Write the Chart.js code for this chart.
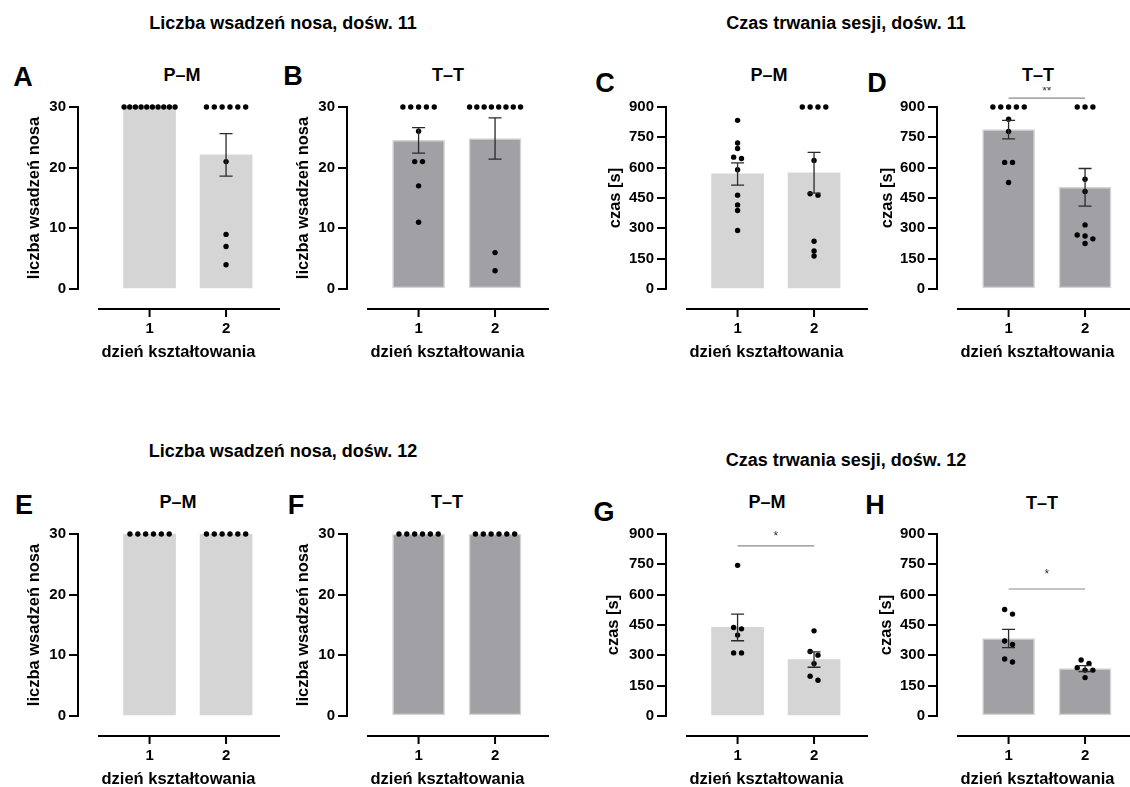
<!DOCTYPE html>
<html>
<head>
<meta charset="utf-8">
<script src="https://cdn.jsdelivr.net/npm/chart.js@4.4.0/dist/chart.umd.min.js"></script>
<style>
body { margin:0; width:1130px; height:787px; overflow:hidden; background:#fff; position:relative;
       font-family:"Liberation Sans", Arial, sans-serif; font-weight:bold; color:#000; }
canvas { position:absolute; }
.t { position:absolute; transform:translate(-50%,-50%); white-space:nowrap; line-height:1; }
.main { font-size:18px; }
.sub { font-size:18px; }
.let { font-size:27px; }
</style>
</head>
<body>
<div class="t main" style="left:283px;top:23px">Liczba wsadzeń nosa, dośw. 11</div>
<div class="t main" style="left:846px;top:23px">Czas trwania sesji, dośw. 11</div>
<div class="t main" style="left:283px;top:451px">Liczba wsadzeń nosa, dośw. 12</div>
<div class="t main" style="left:846px;top:460px">Czas trwania sesji, dośw. 12</div>

<div class="t let" style="left:23px;top:77px">A</div>
<div class="t let" style="left:293px;top:76px">B</div>
<div class="t let" style="left:605px;top:83px">C</div>
<div class="t let" style="left:877px;top:83px">D</div>
<div class="t let" style="left:24px;top:505px">E</div>
<div class="t let" style="left:296px;top:505px">F</div>
<div class="t let" style="left:604px;top:512px">G</div>
<div class="t let" style="left:875px;top:505px">H</div>

<div class="t sub" style="left:182px;top:75px">P–M</div>
<div class="t sub" style="left:448px;top:75px">T–T</div>
<div class="t sub" style="left:769px;top:75px">P–M</div>
<div class="t sub" style="left:1038px;top:75px">T–T</div>
<div class="t sub" style="left:178px;top:502px">P–M</div>
<div class="t sub" style="left:447px;top:502px">T–T</div>
<div class="t sub" style="left:767px;top:502px">P–M</div>
<div class="t sub" style="left:1042px;top:503px">T–T</div>

<canvas id="pA" width="283" height="282"></canvas>
<canvas id="pB" width="283" height="282"></canvas>
<canvas id="pC" width="283" height="282"></canvas>
<canvas id="pD" width="283" height="282"></canvas>
<canvas id="pE" width="283" height="282"></canvas>
<canvas id="pF" width="283" height="282"></canvas>
<canvas id="pG" width="283" height="282"></canvas>
<canvas id="pH" width="283" height="282"></canvas>

<script>
// dane
var days = [1, 2];
var countTicks = [0, 10, 20, 30];
var timeTicks = [0, 150, 300, 450, 600, 750, 900];

var aMean = [30, 22.1];
var aSem = [0, 3.5];
var aPts1 = [30, 30, 30, 30, 30, 30, 30, 30, 30, 30];
var aPts2 = [30, 30, 30, 30, 30, 30, 21, 9, 7, 4];

var bMean = [24.5, 24.8];
var bSem = [2.1, 3.4];
var bPts1 = [30, 30, 30, 30, 30, 26, 21, 21, 17, 11];
var bPts2 = [30, 30, 30, 30, 30, 30, 30, 30, 6, 3];

var cMean = [569, 575];
var cSem = [55, 101];
var cPts1 = [834, 722, 695, 652, 645, 590, 464, 416, 388, 289];
var cPts2 = [900, 900, 900, 900, 636, 471, 464, 236, 188, 163];

var dMean = [788, 503];
var dSem = [46, 93];
var dPts1 = [900, 900, 900, 900, 900, 840, 779, 626, 626, 527];
var dPts2 = [900, 900, 900, 543, 482, 317, 267, 262, 248, 225];

var eMean = [30, 30];
var eSem = [0, 0];
var ePts1 = [30, 30, 30, 30, 30, 30];
var ePts2 = [30, 30, 30, 30, 30, 30];

var fMean = [30, 30];
var fSem = [0, 0];
var fPts1 = [30, 30, 30, 30, 30, 30];
var fPts2 = [30, 30, 30, 30, 30, 30];

var gMean = [438, 279];
var gSem = [66, 38];
var gPts1 = [745, 438, 431, 400, 312, 312];
var gPts2 = [421, 319, 301, 259, 197, 177];

var hMean = [383, 234];
var hSem = [45, 15];
var hPts1 = [527, 504, 371, 354, 282, 267];
var hPts2 = [277, 260, 239, 227, 227, 190];

var dSig = { y: 944, label: '**' };
var gSig = { y: 841, label: '*' };
var hSig = { y: 628, label: '*' };

// uklad
var PLOT_H = 182, CAT_W = 78, AXIS_W = 78, AREA_W = 205;
var LIGHT = '#d5d5d5', DARK = '#a1a1a5', DARK_EDGE = '#d4d4d4';

Chart.defaults.font.family = '"Liberation Sans", Arial, sans-serif';
Chart.defaults.font.weight = 'bold';
Chart.defaults.color = '#000';

// rozrzut punktow (jak w Prism)
function swarm(vals, day, yMax) {
    var py = PLOT_H / yMax;
    var sorted = vals.slice().sort(function (a, b) { return b - a; });
    var rows = [];
    sorted.forEach(function (v) {
        var r = rows[rows.length - 1];
        if (r && (r[0] - v) * py < 5) r.push(v); else rows.push([v]);
    });
    var out = [];
    rows.forEach(function (r) {
        var s = Math.min(8, 52 / Math.max(r.length - 1, 1));
        r.forEach(function (v, i) {
            out.push({ x: day + (i - (r.length - 1) / 2) * s / CAT_W, y: v });
        });
    });
    return out;
}

var extras = {
    id: 'extras',
    afterDatasetsDraw: function (chart) {
        var ctx = chart.ctx, xs = chart.scales.x, ys = chart.scales.y, a = chart.chartArea;
        var p = chart.options.plugins.extras;
        ctx.save();
        // os x odsunieta w dol
        var ly = a.bottom + 20;
        ctx.strokeStyle = '#000';
        ctx.lineWidth = 2;
        ctx.beginPath();
        ctx.moveTo(a.left + 20, ly);
        ctx.lineTo(a.left + 202, ly);
        days.forEach(function (d) {
            var px = xs.getPixelForValue(d);
            ctx.moveTo(px, ly);
            ctx.lineTo(px, ly + 8);
        });
        ctx.stroke();
        // slupki bledu
        ctx.strokeStyle = '#2a2a2a';
        ctx.lineWidth = 1.3;
        p.means.forEach(function (m, i) {
            var s = p.sems[i];
            if (!s) return;
            var cx = xs.getPixelForValue(days[i]);
            var t = ys.getPixelForValue(m + s), b = ys.getPixelForValue(m - s);
            ctx.beginPath();
            ctx.moveTo(cx, t); ctx.lineTo(cx, b);
            ctx.moveTo(cx - 6.5, t); ctx.lineTo(cx + 6.5, t);
            ctx.moveTo(cx - 6.5, b); ctx.lineTo(cx + 6.5, b);
            ctx.stroke();
        });
        // istotnosc
        if (p.sig) {
            var sy = ys.getPixelForValue(p.sig.y);
            var x1 = xs.getPixelForValue(days[0]), x2 = xs.getPixelForValue(days[1]);
            ctx.strokeStyle = '#8a8a8a';
            ctx.lineWidth = 1.2;
            ctx.beginPath();
            ctx.moveTo(x1, sy); ctx.lineTo(x2, sy);
            ctx.stroke();
            ctx.fillStyle = '#333';
            ctx.font = '12px "Liberation Sans", Arial, sans-serif';
            ctx.textAlign = 'center';
            ctx.textBaseline = 'middle';
            ctx.fillText(p.sig.label, (x1 + x2) / 2, sy - p.sigGap);
        }
        ctx.restore();
    }
};

function makePanel(id, left, top, yTicks, yTitle, titlePad, color, edge, means, sems, pts1, pts2, sig, sigGap) {
    var cv = document.getElementById(id);
    cv.style.left = left + 'px';
    cv.style.top = top + 'px';
    var yMax = yTicks[yTicks.length - 1];
    var xMin = days[0] - 73 / CAT_W;
    var dots = swarm(pts1, days[0], yMax).concat(swarm(pts2, days[1], yMax));
    new Chart(cv.getContext('2d'), {
        type: 'bar',
        data: {
            datasets: [{
                type: 'scatter',
                data: dots,
                backgroundColor: '#000',
                borderWidth: 0,
                pointRadius: 2.7,
                clip: false,
                order: 0
            }, {
                type: 'bar',
                data: days.map(function (d, i) { return { x: d, y: means[i] }; }),
                backgroundColor: color,
                borderColor: edge,
                borderWidth: edge ? 1.5 : 0,
                borderSkipped: false,
                barThickness: 52,
                order: 1
            }]
        },
        options: {
            responsive: false,
            animation: false,
            devicePixelRatio: 1,
            layout: { padding: { top: 20, left: 0, right: 0, bottom: 0 } },
            plugins: {
                legend: { display: false },
                tooltip: { enabled: false },
                extras: { means: means, sems: sems, sig: sig, sigGap: sigGap }
            },
            scales: {
                x: {
                    type: 'linear',
                    offset: false,
                    min: xMin,
                    max: xMin + AREA_W / CAT_W,
                    afterBuildTicks: function (s) { s.ticks = days.map(function (v) { return { value: v }; }); },
                    afterFit: function (s) { s.height = 80; },
                    grid: { display: false, drawTicks: false },
                    border: { display: false },
                    ticks: { padding: 31, font: { size: 15 }, callback: function (v) { return String(v); } },
                    title: { display: true, text: 'dzień kształtowania', font: { size: 16.5 }, padding: { top: 0, bottom: 7 } }
                },
                y: {
                    min: 0,
                    max: yMax,
                    afterBuildTicks: function (s) { s.ticks = yTicks.map(function (v) { return { value: v }; }); },
                    afterFit: function (s) { s.width = AXIS_W; },
                    grid: { display: true, drawOnChartArea: false, drawTicks: true, tickLength: 9, color: '#000', lineWidth: 2 },
                    border: { display: true, color: '#000', width: 2 },
                    ticks: { padding: 3, font: { size: 15 } },
                    title: { display: true, text: yTitle, font: { size: 16.5 }, padding: { top: titlePad, bottom: 0 } }
                }
            }
        },
        plugins: [extras]
    });
}

var yCount = 'liczba wsadzeń nosa', yTime = 'czas [s]';
makePanel('pA', 0, 87, countTicks, yCount, 25, LIGHT, null, aMean, aSem, aPts1, aPts2, null, 0);
makePanel('pB', 269, 87, countTicks, yCount, 25, DARK, DARK_EDGE, bMean, bSem, bPts1, bPts2, null, 0);
makePanel('pC', 588, 87, timeTicks, yTime, 18, LIGHT, null, cMean, cSem, cPts1, cPts2, null, 0);
makePanel('pD', 859, 87, timeTicks, yTime, 19, DARK, DARK_EDGE, dMean, dSem, dPts1, dPts2, dSig, 6);
makePanel('pE', 0, 514, countTicks, yCount, 25, LIGHT, null, eMean, eSem, ePts1, ePts2, null, 0);
makePanel('pF', 269, 514, countTicks, yCount, 25, DARK, DARK_EDGE, fMean, fSem, fPts1, fPts2, null, 0);
makePanel('pG', 588, 514, timeTicks, yTime, 16, LIGHT, null, gMean, gSem, gPts1, gPts2, gSig, 9);
makePanel('pH', 859, 514, timeTicks, yTime, 18, DARK, DARK_EDGE, hMean, hSem, hPts1, hPts2, hSig, 14);
</script>
</body>
</html>
